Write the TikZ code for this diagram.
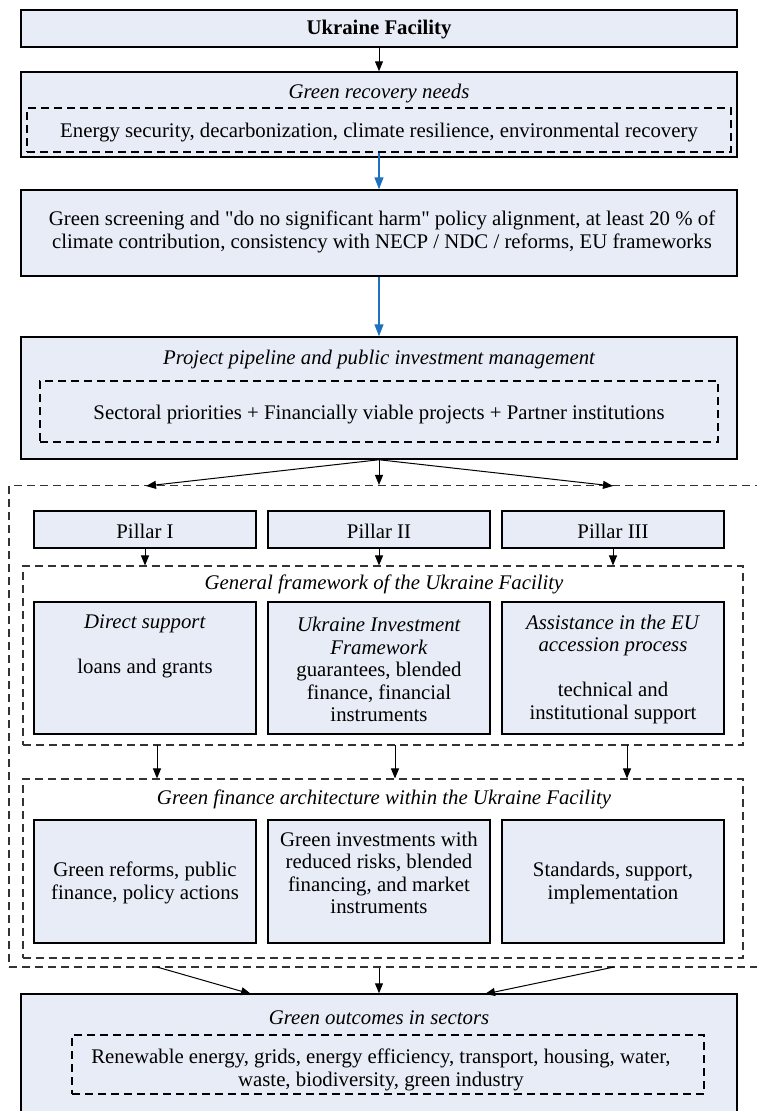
\documentclass[tikz,border=0pt]{standalone}
\usepackage{fontspec}
\setmainfont{Liberation Serif}
\newfontfamily\plainq{Liberation Serif}
\usetikzlibrary{arrows.meta}
\definecolor{boxfill}{RGB}{231,236,246}
\definecolor{arrblue}{RGB}{32,112,192}
\newcommand{\sq}{{\plainq\symbol{34}}}
\begin{document}
\begin{tikzpicture}[x=1pt,y=-1pt,
  font=\fontsize{20.8}{23}\selectfont,
  box/.style={draw=black, fill=boxfill, line width=1.5pt, inner sep=0pt, align=center},
  dbox/.style={draw=black, dash pattern=on 8pt off 5pt, line width=1.4pt, inner sep=0pt},
  frame/.style={draw=black!80, dash pattern=on 8pt off 5pt, line width=1.1pt, inner sep=0pt},
  lbl/.style={inner sep=0pt, align=center, yshift=-1.5pt},
  ttl/.style={inner sep=0pt, align=center, yshift=-1.5pt, font=\fontsize{20.8}{23}\selectfont\itshape},
  arr/.style={-{Triangle[length=10pt,width=8pt]}, line width=1pt, draw=black},
  barr/.style={-{Triangle[length=12pt,width=9pt]}, line width=1.3pt, draw=arrblue}
]
\useasboundingbox (0,0) rectangle (757,1111);
\clip (0,0) rectangle (757,1111);

% outer dashed frame (extends beyond the right edge)
\node[frame, minimum width=760pt, minimum height=481.5pt] (outer) at (389,726.25) {};

% top box
\node[box, minimum width=716pt, minimum height=37pt] (uf) at (379,28.5) {};
\node[lbl, font=\fontsize{20.8}{23}\selectfont\bfseries] (ufl) at (379,28) {Ukraine Facility};

% green recovery needs
\node[box, minimum width=716pt, minimum height=85pt] (grn) at (379,114.5) {};
\node[ttl] (grnt) at (379,92) {Green recovery needs};
\node[dbox, minimum width=704pt, minimum height=44pt] (grni) at (379,130) {};
\node[lbl] (grnl) at (379,131) {Energy security, decarbonization, climate resilience, environmental recovery};

% green screening
\node[box, minimum width=716pt, minimum height=86pt] (gs) at (379,233) {};
\node[lbl] (gsl) at (382,230) {Green screening and \sq do no significant harm\sq{} policy alignment, at least 20 \% of\\climate contribution, consistency with NECP / NDC / reforms, EU frameworks};

% project pipeline
\node[box, minimum width=716pt, minimum height=122pt] (pp) at (379,398) {};
\node[ttl] (ppt) at (379,358) {Project pipeline and public investment management};
\node[dbox, minimum width=678pt, minimum height=61pt] (ppi) at (379,411.5) {};
\node[lbl] (ppl) at (379,413) {Sectoral priorities + Financially viable projects + Partner institutions};

% pillars
\node[box, minimum width=222pt, minimum height=37pt] (p1) at (145,529.5) {};
\node[box, minimum width=222pt, minimum height=37pt] (p2) at (379,529.5) {};
\node[box, minimum width=222pt, minimum height=37pt] (p3) at (613,529.5) {};
\node[lbl] (p1l) at (145,530) {Pillar I};
\node[lbl] (p2l) at (379,530) {Pillar II};
\node[lbl] (p3l) at (613,530) {Pillar III};

% general framework
\node[frame, minimum width=720pt, minimum height=179pt] (fw1) at (383,655.5) {};
\node[ttl] (fw1t) at (384,583) {General framework of the Ukraine Facility};
\node[box, minimum width=222pt, minimum height=132pt] (a1) at (145,668) {};
\node[box, minimum width=222pt, minimum height=132pt] (a2) at (379,668) {};
\node[box, minimum width=222pt, minimum height=132pt] (a3) at (613,668) {};
\node[lbl, font=\fontsize{20.8}{22.5}\selectfont] (a1l) at (145,644.5) {\textit{Direct support}\\[22.5pt]loans and grants};
\node[lbl, font=\fontsize{20.8}{22.5}\selectfont] (a2l) at (379,668) {\textit{Ukraine Investment}\\\textit{Framework}\\guarantees, blended\\finance, financial\\instruments};
\node[lbl, font=\fontsize{20.8}{22.5}\selectfont] (a3l) at (613,667.5) {\textit{Assistance in the EU}\\\textit{accession process}\\[22.5pt]technical and\\institutional support};

% green finance architecture
\node[frame, minimum width=720pt, minimum height=179pt] (fw2) at (383,868.5) {};
\node[ttl] (fw2t) at (384,798) {Green finance architecture within the Ukraine Facility};
\node[box, minimum width=222pt, minimum height=123pt] (b1) at (145,881.5) {};
\node[box, minimum width=222pt, minimum height=123pt] (b2) at (379,881.5) {};
\node[box, minimum width=222pt, minimum height=123pt] (b3) at (613,881.5) {};
\node[lbl, font=\fontsize{20.8}{22.5}\selectfont] (b1l) at (145,881.5) {Green reforms, public\\finance, policy actions};
\node[lbl, font=\fontsize{20.8}{22.5}\selectfont] (b2l) at (379,871.5) {Green investments with\\reduced risks, blended\\financing, and market\\instruments};
\node[lbl, font=\fontsize{20.8}{22.5}\selectfont] (b3l) at (613,881.5) {Standards, support,\\implementation};

% green outcomes
\node[box, minimum width=716pt, minimum height=130pt] (go) at (379,1059) {};
\node[ttl] (got) at (379,1016) {Green outcomes in sectors};
\node[dbox, minimum width=632pt, minimum height=59pt] (goi) at (388,1064.5) {};
\node[lbl] (gol) at (381,1068.5) {Renewable energy, grids, energy efficiency, transport, housing, water,\\waste, biodiversity, green industry};

% connectors
\draw[arr] (uf.south) -- (grn.north);
\draw[barr] (grni.south) -- (gs.north);
\draw[barr] (gs.south) -- (pp.north);

\coordinate (o1) at (146,486);
\coordinate (o3) at (613,486);
\draw[arr] (pp.south) -- (o1);
\draw[arr] (pp.south) -- (outer.north -| pp.south);
\draw[arr] (pp.south) -- (o3);

\draw[arr] (p1.south) -- (p1.south |- fw1.north);
\draw[arr] (p2.south) -- (p2.south |- fw1.north);
\draw[arr] (p3.south) -- (p3.south |- fw1.north);

\coordinate (m1) at (157,745);
\coordinate (m2) at (395,745);
\coordinate (m3) at (627,745);
\draw[arr] (m1) -- (m1 |- fw2.north);
\draw[arr] (m2) -- (m2 |- fw2.north);
\draw[arr] (m3) -- (m3 |- fw2.north);

\coordinate (s1) at (157,967);
\coordinate (s3) at (614,967);
\coordinate (e1) at (251,994);
\coordinate (e3) at (485,994);
\draw[arr] (s1) -- (e1);
\draw[arr] (outer.south -| go.north) -- (go.north);
\draw[arr] (s3) -- (e3);
\end{tikzpicture}
\end{document}
